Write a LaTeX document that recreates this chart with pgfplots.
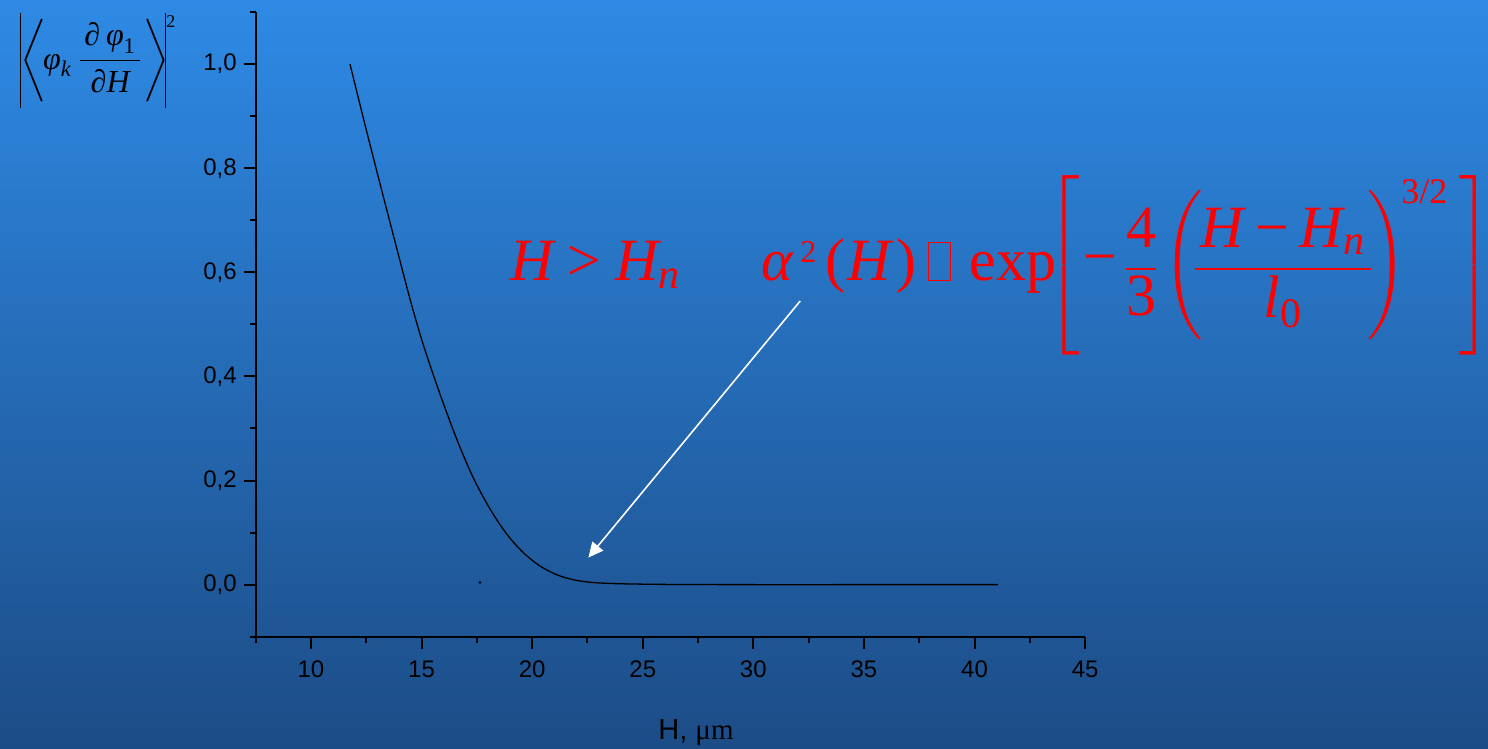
\documentclass[border=0pt]{standalone}
\usepackage{amsmath}
\usepackage{fontspec}
\usepackage{pgfplots}
\pgfplotsset{compat=1.18}
\usetikzlibrary{arrows.meta}
\setmainfont{Liberation Sans}
\newfontfamily\tms{Liberation Serif}
\newcommand{\vi}[1]{\text{\tms\itshape #1}}
\newcommand{\vr}[1]{\text{\tms #1}}
\newcommand{\vbar}{\vcenter{\hbox{\vrule width 0.75pt height 47.5pt}}}
\definecolor{bgtop}{RGB}{46,138,229}
\definecolor{bgbot}{RGB}{28,76,134}
\begin{document}
\begin{tikzpicture}
\useasboundingbox (0,0) rectangle (744pt,374.5pt);
\shade[top color=bgtop, bottom color=bgbot] (0,0) rectangle (744pt,374.5pt);
\begin{axis}[
  at={(127.85pt,56.15pt)}, anchor=south west,
  width=414.7pt, height=312.3pt, scale only axis,
  xmin=7.5, xmax=45, ymin=-0.1, ymax=1.1,
  axis lines*=left,
  axis line style={line width=1pt, black},
  tick align=outside,
  major tick length=6pt, minor tick length=3pt,
  every tick/.style={black, line width=1pt},
  xtick={10,15,20,25,30,35,40,45},
  minor xtick={7.5,12.5,17.5,22.5,27.5,32.5,37.5,42.5},
  ytick={0,0.2,0.4,0.6,0.8,1.0},
  minor ytick={-0.1,0.1,0.3,0.5,0.7,0.9,1.1},
  /pgf/number format/assume math mode=true,
  yticklabel style={/pgf/number format/.cd, fixed, fixed zerofill, precision=1, use comma},
  tick label style={font=\fontsize{12}{14}\selectfont, black},
  xticklabel style={yshift=-2.5pt},
  clip=false,
]
\addplot[black, line width=0.65pt, smooth, tension=0.5] coordinates {
  (11.764,1.000) (12.442,0.8835) (13.121,0.7702) (13.799,0.6589)
  (14.509,0.5438) (15.079,0.4607) (15.834,0.3660) (16.590,0.2795)
  (17.327,0.2061) (18.096,0.1453) (18.851,0.0971) (19.602,0.0614)
  (20.357,0.0357) (21.112,0.0190) (21.863,0.0094) (22.619,0.0046)
  (23.52,0.0023) (24.88,0.0010) (26.69,0.0003) (29.86,0.0) (35.0,0.0) (41.07,0.0)
};
\addplot[only marks, mark=*, mark size=0.4pt, black] coordinates {(17.64,0.004)};
\draw[white, line width=0.8pt, -{Triangle[length=7.5pt,width=7pt]}] (axis cs:32.12,0.545) -- (axis cs:22.54,0.052);
\end{axis}
% y label
\node[anchor=west, inner sep=0, font=\fontsize{16}{19}\selectfont] at (9.6pt,344.3pt)
  {$\nulldelimiterspace=0pt\vbar\mkern-3.5mu\left\langle\vcenter{\hbox{\rule{0pt}{44pt}}}\mkern-1.5mu\vi{φ}_{\vi{k}}\,\mkern1.5mu\dfrac{\hspace{2pt}\vi{∂}\,\vi{φ}_{\vr{1}}\hspace{2pt}}{\vi{∂}\vi{H}}\mkern1.8mu\right\rangle\mkern-5.5mu\vbar$};
\node[anchor=north west, inner sep=0, font=\fontsize{9}{10}\selectfont\tms] at (83pt,367pt) {2};
% x label
\node[anchor=base west, inner sep=0, font=\fontsize{14.5}{17}\selectfont] at (329pt,4.5pt)
  {H, {\tms μm}};
% red annotation
\begin{scope}[every node/.style={inner sep=0, text=red, font=\fontsize{30}{36}\selectfont\tms}]
\node[anchor=base west] at (255pt,234pt) {$\vi{H} \mathrel{\vr{>}} \vi{H}_{\vi{n}}$};
\node[anchor=base west] at (380.5pt,234pt) {\itshape α};
\node[anchor=base west, font=\fontsize{16}{18}\selectfont\tms] at (400pt,243pt) {2};
\node[anchor=base west] at (412.5pt,234pt) {(\kern1pt{\itshape H}\kern3pt)};
\draw[red, line width=0.5pt] (464pt,234pt) rectangle (475pt,253pt);
\node[anchor=base west] at (484.5pt,234pt) {exp};
\node[anchor=center] at (531.5pt,241.75pt) {$\nulldelimiterspace=0pt\left[\vcenter{\hbox{\rule{0pt}{90pt}}}\right.$};
\node[anchor=center] at (550pt,241.75pt) {−};
\node[anchor=base] at (570.5pt,234pt) {$\nulldelimiterspace=0pt\dfrac{\vr{4}}{\vr{3}}$};
\node[anchor=center] at (591.75pt,241.75pt) {$\nulldelimiterspace=0pt\left(\vcenter{\hbox{\rule{0pt}{76pt}}}\right.$};
\node[anchor=base] at (641.5pt,234pt) {$\nulldelimiterspace=0pt\dfrac{\hspace{3pt}\vi{H}\mathbin{\vr{−}}\vi{H}_{\vi{n}}\hspace{3pt}}{\vi{l}_{\vr{0}}}$};
\node[anchor=center] at (693.5pt,241.75pt) {$\nulldelimiterspace=0pt\left.\vcenter{\hbox{\rule{0pt}{76pt}}}\right)$};
\node[anchor=base west, font=\fontsize{18}{21}\selectfont\tms] at (700.5pt,272.5pt) {3/2};
\node[anchor=center] at (738pt,241.75pt) {$\nulldelimiterspace=0pt\left.\vcenter{\hbox{\rule{0pt}{90pt}}}\right]$};
\end{scope}
\end{tikzpicture}
\end{document}
